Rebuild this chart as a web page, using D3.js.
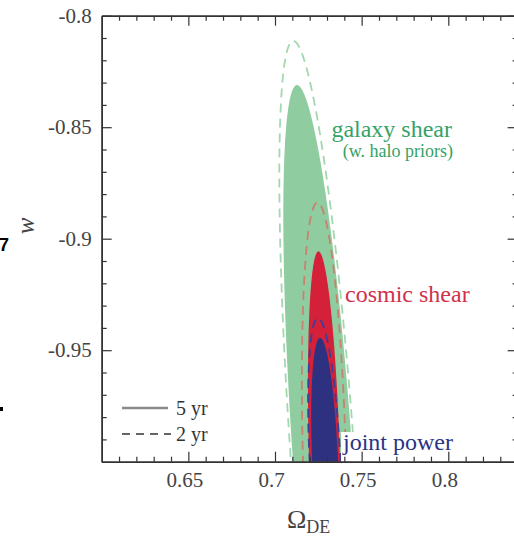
<!DOCTYPE html>
<html>
<head>
<meta charset="utf-8">
<script src="https://cdn.jsdelivr.net/npm/d3@7"></script>
<style>
  html, body { margin: 0; padding: 0; background: #fff; }
  svg { display: block; }
  text { font-family: "Liberation Serif", "Times New Roman", serif; }
</style>
</head>
<body>
<div id="chart"></div>
<script>
// ---- data ----
const contourNames = ["galaxy shear", "cosmic shear", "joint power"];
const centerOmega = [0.7277, 0.7286, 0.7289];
const centerW = [-1, -1, -1];
// 5-year (filled) contours
const sigmaOmega5 = [0.0229, 0.0096, 0.0080];
const sigmaW5 = [0.1689, 0.0943, 0.0555];
const rho5 = [-0.655, -0.366, -0.36];
// 2-year (dashed) contours
const sigmaOmega2 = [0.0252, 0.0131, 0.0098];
const sigmaW2 = [0.1887, 0.1162, 0.0644];
const rho2 = [-0.68, -0.314, -0.42];

const xMajorTicks = [0.65, 0.7, 0.75, 0.8];
const xMinorTicks = d3.range(61, 84).map(d => d / 100);
const yMajorTicks = [-0.95, -0.9, -0.85, -0.8];
const yMinorTicks = d3.range(-99, -80).map(d => d / 100);
const xDomain = [0.6, 0.84];
const yDomain = [-1, -0.8];
const legendLabels = ["5 yr", "2 yr"];

// ---- styles ----
const fillColors = ["#8fcc9f", "#d42038", "#2e3180"];
const dashColors = ["#a3d8ae", "#c8826f", "#3b3e9c"];
const labelColors = ["#35a266", "#d0314b", "#2c3386"];

const W = 514, H = 536;
const pLeft = 101.7, pTop = 15.7, pBottom = 461.7;
const x = d3.scaleLinear().domain(xDomain).range([pLeft, pLeft + (xDomain[1] - xDomain[0]) * 1733]);
const y = d3.scaleLinear().domain(yDomain).range([pBottom, pTop]);
const pRight = x(xDomain[1]);

const svg = d3.select("#chart").append("svg").attr("width", W).attr("height", H);
svg.append("rect").attr("width", W).attr("height", H).attr("fill", "#fff");

svg.append("defs").append("clipPath").attr("id", "plot")
  .append("rect").attr("x", pLeft).attr("y", pTop).attr("width", pRight - pLeft).attr("height", pBottom - pTop);

function ellipsePoints(i, sx, sy, r) {
  return d3.range(0, 361).map(k => {
    const t = k * Math.PI / 180;
    return [centerOmega[i] + sx[i] * Math.cos(t),
            centerW[i] + r[i] * sy[i] * Math.cos(t) + sy[i] * Math.sqrt(1 - r[i] * r[i]) * Math.sin(t)];
  });
}
const line = d3.line().x(d => x(d[0])).y(d => y(d[1])).curve(d3.curveLinearClosed);

const g = svg.append("g").attr("clip-path", "url(#plot)");
contourNames.forEach((name, i) => {
  g.append("path").attr("d", line(ellipsePoints(i, sigmaOmega5, sigmaW5, rho5)))
    .attr("fill", fillColors[i]).attr("stroke", "none");
  g.append("path").attr("d", line(ellipsePoints(i, sigmaOmega2, sigmaW2, rho2)))
    .attr("fill", "none").attr("stroke", dashColors[i]).attr("stroke-width", 1.8)
    .attr("stroke-dasharray", "9,6");
});

// white box behind "joint power"
g.append("rect").attr("x", 341).attr("y", 432).attr("width", 125).attr("height", pBottom - 432).attr("fill", "#fff");

// ---- labels ----
const lab = svg.append("g");
lab.append("text").attr("x", 452).attr("y", 137).attr("text-anchor", "end")
  .attr("font-size", 24).attr("fill", labelColors[0]).text("galaxy shear");
lab.append("text").attr("x", 453).attr("y", 157).attr("text-anchor", "end")
  .attr("font-size", 18).attr("fill", labelColors[0]).text("(w. halo priors)");
lab.append("text").attr("x", 345).attr("y", 302)
  .attr("font-size", 24).attr("fill", labelColors[1]).text("cosmic shear");
lab.append("text").attr("x", 343).attr("y", 450)
  .attr("font-size", 24).attr("fill", labelColors[2]).text("joint power");

// ---- legend ----
const leg = svg.append("g");
leg.append("line").attr("x1", 122).attr("x2", 168).attr("y1", 408).attr("y2", 408)
  .attr("stroke", "#8a8a8a").attr("stroke-width", 2.6);
leg.append("line").attr("x1", 122).attr("x2", 171).attr("y1", 434).attr("y2", 434)
  .attr("stroke", "#333").attr("stroke-width", 1.4).attr("stroke-dasharray", "8,6");
leg.append("text").attr("x", 176).attr("y", 415).attr("font-size", 20).attr("fill", "#333").text(legendLabels[0]);
leg.append("text").attr("x", 176).attr("y", 441).attr("font-size", 20).attr("fill", "#333").text(legendLabels[1]);

// ---- axes ----
function styleAxis(sel) {
  sel.selectAll("path.domain").attr("stroke", "#333").attr("stroke-width", 1.5);
  sel.selectAll(".tick line").attr("stroke", "#333").attr("stroke-width", 1.2);
  sel.selectAll(".tick text").style("font-family", "'Liberation Serif', serif").attr("font-size", 21).attr("fill", "#444");
}
const fmt = d => String(d);
const notMajor = (arr, majors) => arr.filter(v => !majors.some(m => Math.abs(m - v) < 1e-9));
// bottom
svg.append("g").attr("transform", `translate(0,${pBottom})`)
  .call(d3.axisBottom(x).tickValues(notMajor(xMinorTicks, xMajorTicks))
    .tickSizeInner(-5).tickSizeOuter(0).tickFormat(""))
  .call(styleAxis);
svg.append("g").attr("transform", `translate(0,${pBottom})`)
  .call(d3.axisBottom(x).tickValues(xMajorTicks).tickSizeInner(-10).tickSizeOuter(0).tickPadding(10).tickFormat(fmt))
  .call(styleAxis)
  .call(s => s.selectAll(".tick text").attr("dx", -4));
// top
svg.append("g").attr("transform", `translate(0,${pTop})`)
  .call(d3.axisTop(x).tickValues(notMajor(xMinorTicks, xMajorTicks))
    .tickSizeInner(-5).tickSizeOuter(0).tickFormat(""))
  .call(styleAxis);
svg.append("g").attr("transform", `translate(0,${pTop})`)
  .call(d3.axisTop(x).tickValues(xMajorTicks).tickSizeInner(-10).tickSizeOuter(0).tickFormat(""))
  .call(styleAxis);
// left
svg.append("g").attr("transform", `translate(${pLeft},0)`)
  .call(d3.axisLeft(y).tickValues(notMajor(yMinorTicks, yMajorTicks))
    .tickSizeInner(-5).tickSizeOuter(0).tickFormat(""))
  .call(styleAxis);
svg.append("g").attr("transform", `translate(${pLeft},0)`)
  .call(d3.axisLeft(y).tickValues(yMajorTicks).tickSizeInner(-10).tickSizeOuter(0).tickPadding(10).tickFormat(fmt))
  .call(styleAxis);
// right
svg.append("g").attr("transform", `translate(${pRight},0)`)
  .call(d3.axisRight(y).tickValues(notMajor(yMinorTicks, yMajorTicks))
    .tickSizeInner(-5).tickSizeOuter(0).tickFormat(""))
  .call(styleAxis);
svg.append("g").attr("transform", `translate(${pRight},0)`)
  .call(d3.axisRight(y).tickValues(yMajorTicks).tickSizeInner(-10).tickSizeOuter(0).tickFormat(""))
  .call(styleAxis);

// axis titles
const xt = svg.append("text").attr("x", 287).attr("y", 528).attr("fill", "#444");
xt.append("tspan").attr("font-size", 26).text("Ω");
xt.append("tspan").attr("font-size", 18).attr("dy", 5).text("DE");
svg.append("text").attr("transform", "translate(34,226) rotate(-90)").attr("text-anchor", "middle")
  .attr("font-size", 25).attr("font-style", "italic").attr("fill", "#444").text("w");

// neighbour artefacts at the left edge
svg.append("text").attr("x", -1).attr("y", 251)
  .style("font-family", "'Liberation Sans', Arial, sans-serif").attr("font-weight", "bold")
  .attr("font-size", 18).attr("fill", "#000").text("7");
svg.append("rect").attr("x", 0).attr("y", 407).attr("width", 3).attr("height", 4).attr("fill", "#000");
</script>
</body>
</html>
